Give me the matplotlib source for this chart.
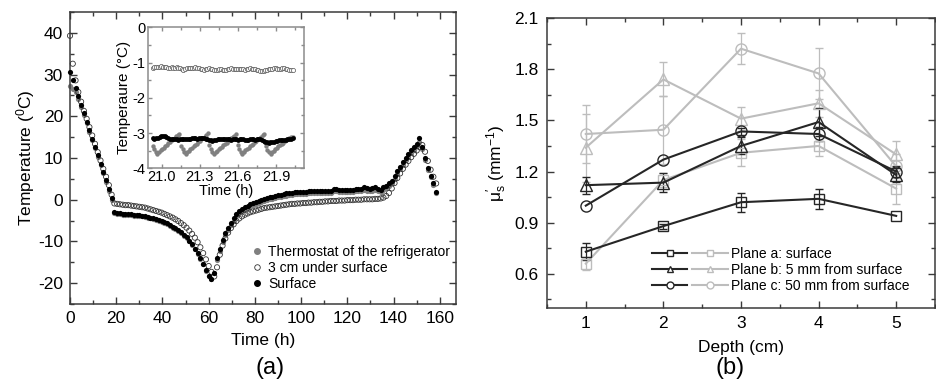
import numpy as np
import matplotlib
matplotlib.use('Agg')
import matplotlib.pyplot as plt
from matplotlib.lines import Line2D
from matplotlib.legend_handler import HandlerTuple
from matplotlib.ticker import MultipleLocator, FormatStrFormatter

plt.rcParams['font.family'] = ['Liberation Sans', 'DejaVu Sans']
plt.rcParams['axes.unicode_minus'] = False
plt.rcParams['mathtext.fontset'] = 'custom'
plt.rcParams['mathtext.rm'] = 'Liberation Sans'
plt.rcParams['mathtext.it'] = 'Liberation Sans:italic'

# --- panel (a): temperature log, one reading every 1.2 h ---
step_h = 1.2
surface = [30.5, 28.6, 26.7, 24.8, 22.6, 20.7, 18.6, 16.6, 14.6, 12.6,
           10.6, 8.6, 6.6, 4.7, 2.6, 0.3, -2.9, -3.2, -3.3, -3.4,
           -3.4, -3.5, -3.5, -3.6, -3.7, -3.7, -3.8, -4.0, -4.1, -4.3,
           -4.4, -4.6, -4.9, -5.1, -5.4, -5.7, -6.1, -6.5, -6.9, -7.3,
           -7.8, -8.4, -9.0, -9.8, -10.7, -11.7, -12.8, -14.0, -15.3, -16.8,
           -18.3, -19.1, -17.5, -14.0, -11.8, -9.7, -8.0, -6.8, -5.6, -4.5,
           -3.5, -2.8, -2.3, -1.8, -1.4, -1.1, -0.8, -0.5, -0.2, 0.0,
           0.2, 0.4, 0.6, 0.7, 0.9, 1.1, 1.2, 1.4, 1.5, 1.6,
           1.7, 1.8, 1.8, 1.9, 1.9, 1.9, 2.0, 2.0, 2.0, 2.1,
           2.0, 2.1, 2.1, 2.2, 2.1, 2.6, 2.5, 2.4, 2.3, 2.4,
           2.3, 2.3, 2.4, 2.6, 2.5, 2.6, 3.1, 2.7, 2.6, 2.8,
           3.0, 2.6, 2.4, 3.1, 3.4, 3.9, 4.6, 5.6, 6.8, 7.9,
           9.0, 10.0, 10.9, 11.8, 12.6, 13.4, 14.8, 12.6, 9.9, 7.5,
           5.7, 3.9, 1.9]
thermostat = [27.3, 26.5, 25.8, 24.2, 22.3, 20.3, 18.3, 16.3, 14.3, 12.3,
              10.3, 8.3, 6.3, 4.3, 2.2, 0.0, -3.3, -3.4, -3.5, -3.6,
              -3.6, -3.7, -3.7, -3.8, -3.9, -3.9, -4.0, -4.2, -4.3, -4.5,
              -4.6, -4.8, -5.1, -5.3, -5.6, -5.9, -6.3, -6.7, -7.1, -7.5,
              -8.0, -8.6, -9.2, -10.0, -10.9, -11.9, -13.0, -14.2, -15.5, -17.0,
              -18.4, -19.0, -17.6, -14.4, -12.2, -10.1, -8.5, -7.3, -6.1, -5.0,
              -4.0, -3.3, -2.8, -2.3, -1.9, -1.6, -1.3, -1.0, -0.7, -0.5,
              -0.3, -0.1, 0.1, 0.2, 0.4, 0.6, 0.7, 0.9, 1.0, 1.1,
              1.2, 1.3, 1.3, 1.4, 1.4, 1.4, 1.5, 1.5, 1.5, 1.6,
              1.5, 1.6, 1.6, 1.7, 1.6, 2.0, 2.0, 1.9, 1.8, 1.9,
              1.8, 1.8, 1.9, 2.0, 2.0, 2.1, 2.4, 2.2, 2.1, 2.2,
              2.3, 2.1, 1.9, 2.4, 2.8, 3.3, 4.0, 5.0, 6.2, 7.3,
              8.4, 9.4, 10.3, 11.2, 12.0, 12.8, 13.8, 12.2, 9.6, 7.2,
              5.4, 3.6, 1.6]
under_3cm = [39.3, 32.6, 28.6, 25.8, 23.5, 21.3, 19.4, 17.4, 15.4, 13.4,
             11.4, 9.4, 7.4, 5.5, 3.5, 1.2, -0.9, -1.0, -1.1, -1.2,
             -1.3, -1.3, -1.4, -1.5, -1.6, -1.7, -1.8, -1.9, -2.1, -2.3,
             -2.5, -2.7, -2.9, -3.1, -3.4, -3.7, -4.0, -4.3, -4.7, -5.1,
             -5.6, -6.1, -6.7, -7.4, -8.2, -9.1, -10.2, -11.4, -12.8, -14.3,
             -15.9, -17.3, -18.4, -16.2, -13.2, -11.0, -9.3, -7.9, -6.8, -5.9,
             -5.1, -4.5, -4.0, -3.6, -3.3, -3.0, -2.8, -2.6, -2.4, -2.2,
             -2.0, -1.9, -1.8, -1.7, -1.6, -1.5, -1.4, -1.3, -1.2, -1.1,
             -1.0, -1.0, -0.9, -0.9, -0.8, -0.8, -0.7, -0.7, -0.6, -0.6,
             -0.5, -0.5, -0.4, -0.4, -0.3, -0.3, -0.3, -0.2, -0.2, -0.2,
             -0.1, -0.1, -0.1, 0.0, 0.0, 0.0, 0.1, 0.1, 0.1, 0.1,
             0.2, 0.2, 0.3, 0.5, 0.9, 1.6, 2.7, 4.0, 5.2, 6.3,
             7.4, 8.4, 9.3, 10.2, 11.0, 11.8, 12.6, 13.1, 11.5, 9.3,
             7.2, 5.5, 3.9]

# inset: readings between 20.93 h and 22.03 h
inset_start, inset_end = 20.93, 22.03
inset_thermostat = [-3.38, -3.46, -3.53, -3.58,
                    -3.53, -3.49, -3.45, -3.41, -3.37, -3.33, -3.29, -3.25, -3.21, -3.17, -3.13, -3.09, -3.05, -3.02,
                    -3.36, -3.46, -3.54, -3.59,
                    -3.54, -3.50, -3.46, -3.42, -3.38, -3.34, -3.30, -3.26, -3.22, -3.18, -3.14, -3.10, -3.06, -3.01,
                    -3.34, -3.45, -3.55, -3.60,
                    -3.55, -3.50, -3.46, -3.42, -3.39, -3.35, -3.31, -3.27, -3.23, -3.19, -3.15, -3.11, -3.07, -3.03,
                    -3.35, -3.46, -3.54, -3.58,
                    -3.53, -3.49, -3.45, -3.41, -3.38, -3.34, -3.30, -3.26, -3.22, -3.18, -3.14, -3.10, -3.06, -3.02,
                    -3.37, -3.47, -3.55, -3.59,
                    -3.54, -3.50, -3.46, -3.42, -3.38, -3.34, -3.31, -3.27, -3.23, -3.20, -3.17, -3.14, -3.12, -3.10]
inset_3cm = [-1.15, -1.14, -1.13, -1.12, -1.12, -1.11, -1.13, -1.14, -1.14, -1.15,
             -1.15, -1.14, -1.15, -1.15, -1.14, -1.15, -1.16, -1.18, -1.20, -1.19,
             -1.16, -1.15, -1.15, -1.16, -1.15, -1.14, -1.15, -1.16, -1.17, -1.19,
             -1.20, -1.19, -1.17, -1.16, -1.17, -1.19, -1.21, -1.22, -1.20, -1.18,
             -1.19, -1.21, -1.22, -1.20, -1.18, -1.17, -1.16, -1.17, -1.18, -1.19,
             -1.18, -1.17, -1.18, -1.19, -1.20, -1.18, -1.17, -1.16, -1.17, -1.18,
             -1.19, -1.20, -1.22, -1.24, -1.25, -1.23, -1.21, -1.20, -1.19, -1.18,
             -1.17, -1.16, -1.16, -1.17, -1.18, -1.17, -1.16, -1.16, -1.17, -1.18,
             -1.20, -1.21, -1.22]
inset_surface = [-3.15, -3.16, -3.15, -3.14, -3.12, -3.09, -3.07, -3.08, -3.11, -3.14,
                 -3.17, -3.18, -3.17, -3.16, -3.18, -3.19, -3.18, -3.17, -3.16, -3.17,
                 -3.18, -3.17, -3.16, -3.15, -3.14, -3.15, -3.16, -3.15, -3.14, -3.13,
                 -3.14, -3.16, -3.18, -3.20, -3.21, -3.22, -3.21, -3.19, -3.17, -3.16,
                 -3.17, -3.18, -3.17, -3.16, -3.17, -3.18, -3.19, -3.18, -3.17, -3.18,
                 -3.19, -3.18, -3.17, -3.18, -3.19, -3.20, -3.19, -3.18, -3.17, -3.18,
                 -3.19, -3.18, -3.17, -3.18, -3.20, -3.22, -3.24, -3.26, -3.27, -3.26,
                 -3.25, -3.24, -3.23, -3.22, -3.21, -3.20, -3.19, -3.20, -3.19, -3.18,
                 -3.17, -3.16, -3.15]

# --- panel (b): reduced scattering coefficient vs depth ---
depth = [1, 2, 3, 4, 5]
a_black = [0.73, 0.88, 1.02, 1.04, 0.94]
a_black_err = [0.05, 0.015, 0.055, 0.06, np.nan]
a_grey = [0.66, 1.15, 1.31, 1.35, 1.10]
a_grey_err = [0.04, 0.04, 0.08, 0.06, 0.09]
b_black = [1.12, 1.135, 1.35, 1.49, 1.18]
b_black_err = [0.05, 0.055, 0.05, 0.08, 0.04]
b_grey = [1.34, 1.74, 1.51, 1.60, 1.30]
b_grey_err = [0.20, 0.10, 0.07, 0.08, 0.08]
c_black = [1.00, 1.27, 1.435, 1.42, 1.20]
c_black_err = [np.nan, np.nan, 0.02, 0.04, 0.03]
c_grey = [1.42, 1.445, 1.92, 1.775, 1.23]
c_grey_err = [0.17, 0.20, 0.09, 0.15, 0.07]
legend_labels = ['Plane a: surface', 'Plane b: 5 mm from surface', 'Plane c: 50 mm from surface']

DARK = '#262626'
LIGHT = '#bdbdbd'
THERMO = '#808080'


def style(ax, size, spine='#3a3a3a', pad=5):
    ax.tick_params(which='both', direction='in', top=True, right=True,
                   labelsize=size, color=spine, width=1, pad=pad)
    ax.tick_params(which='major', length=5)
    ax.tick_params(which='minor', length=3)
    for s in ax.spines.values():
        s.set_linewidth(1.1)
        s.set_color(spine)


fig = plt.figure(figsize=(9.36, 3.88), dpi=100)

# ---------------- (a) ----------------
ax1 = fig.add_axes([0.0748, 0.2165, 0.4124, 0.7526])
t = np.arange(len(surface)) * step_h
ax1.scatter(t, thermostat, s=14, c=THERMO, lw=0, zorder=2, clip_on=False)
ax1.scatter(t, under_3cm, s=14, facecolors='none', edgecolors='#333333', lw=0.6, zorder=3, clip_on=False)
ax1.scatter(t, surface, s=14, c='black', lw=0, zorder=4, clip_on=False)
ax1.set_xlim(0, 167)
ax1.set_ylim(-25, 45)
ax1.xaxis.set_major_locator(MultipleLocator(20))
ax1.xaxis.set_minor_locator(MultipleLocator(10))
ax1.yaxis.set_major_locator(MultipleLocator(10))
ax1.yaxis.set_minor_locator(MultipleLocator(5))
style(ax1, 12.5)
ax1.set_xlabel('Time (h)', fontsize=12.5, labelpad=5)
ax1.set_ylabel('Temperature ($^0$C)', fontsize=12.5, labelpad=1)

handles_a = [Line2D([], [], ls='none', marker='o', ms=4, mfc=THERMO, mec=THERMO),
             Line2D([], [], ls='none', marker='o', ms=4, mfc='none', mec='#333333', mew=0.6),
             Line2D([], [], ls='none', marker='o', ms=4, mfc='black', mec='black')]
ax1.legend(handles_a, ['Thermostat of the refrigerator', '3 cm under surface', 'Surface'],
           loc='upper left', bbox_to_anchor=(250 / 936, 1 - 245 / 388),
           bbox_transform=fig.transFigure, frameon=False, fontsize=10,
           handlelength=1.0, handletextpad=0.3, labelspacing=0.15,
           borderpad=0, borderaxespad=0)

# inset
axi = fig.add_axes([0.1578, 0.5662, 0.1670, 0.3634])
axi.scatter(np.linspace(inset_start, inset_end, len(inset_thermostat)), inset_thermostat,
            s=10, c=THERMO, lw=0, zorder=2)
axi.scatter(np.linspace(inset_start, inset_end, len(inset_3cm)), inset_3cm,
            s=9, facecolors='white', edgecolors='#555555', lw=0.5, zorder=3)
axi.scatter(np.linspace(inset_start, inset_end, len(inset_surface)), inset_surface,
            s=12, c='black', lw=0, zorder=4)
axi.set_xlim(20.89, 22.12)
axi.set_ylim(-4, 0)
axi.xaxis.set_major_locator(MultipleLocator(0.3))
axi.xaxis.set_minor_locator(MultipleLocator(0.15))
axi.xaxis.set_major_formatter(FormatStrFormatter('%.1f'))
axi.yaxis.set_major_locator(MultipleLocator(1))
axi.yaxis.set_minor_locator(MultipleLocator(0.5))
style(axi, 10.5, spine='#8c8c8c', pad=1.5)
axi.tick_params(which='major', length=3)
axi.tick_params(which='minor', length=2)
axi.set_xlabel('Time (h)', fontsize=10.5, labelpad=0,
               family=['Liberation Sans Narrow', 'Liberation Sans'])
axi.set_ylabel('Temperaure (°C)', fontsize=11, labelpad=1)

fig.text(270 / 936, 1 - 368 / 388, '(a)', ha='center', va='center', fontsize=17)

# ---------------- (b) ----------------
ax2 = fig.add_axes([0.5844, 0.2062, 0.4145, 0.7474])
series = [(a_grey, a_grey_err, LIGHT, 's', 7.5), (b_grey, b_grey_err, LIGHT, '^', 9),
          (c_grey, c_grey_err, LIGHT, 'o', 8),
          (a_black, a_black_err, DARK, 's', 7.5), (b_black, b_black_err, DARK, '^', 9),
          (c_black, c_black_err, DARK, 'o', 8)]
for vals, err, col, mk, size in series:
    ax2.errorbar(depth, vals, yerr=err, color=col, marker=mk, ms=size, mfc='none',
                 mec=col, mew=1.0, lw=1.5, capsize=3, elinewidth=0.9, capthick=0.9)
ax2.set_xlim(0.5, 5.5)
ax2.set_ylim(0.4, 2.1)
ax2.xaxis.set_major_locator(MultipleLocator(1))
ax2.xaxis.set_minor_locator(MultipleLocator(0.5))
ax2.yaxis.set_major_locator(MultipleLocator(0.3))
ax2.yaxis.set_minor_locator(MultipleLocator(0.15))
ax2.yaxis.set_major_formatter(FormatStrFormatter('%.1f'))
style(ax2, 12.5, pad=6)
ax2.set_xlabel('Depth (cm)', fontsize=12.5, labelpad=6)
ax2.set_ylabel('μ$_\\mathregular{s}^{\\prime}$ (mm$^{-1}$)', fontsize=12.5, labelpad=4)

handles_b = []
for mk in ['s', '^', 'o']:
    handles_b.append((Line2D([], [], color=DARK, marker=mk, ms=5, mfc='white', mec=DARK, lw=1.5),
                      Line2D([], [], color=LIGHT, marker=mk, ms=5, mfc='white', mec=LIGHT, lw=1.5)))
ax2.legend(handles_b, legend_labels, handler_map={tuple: HandlerTuple(ndivide=None, pad=0.35)},
           loc='upper left', bbox_to_anchor=(651.7 / 936, 1 - 247 / 388),
           bbox_transform=fig.transFigure, frameon=False, fontsize=10,
           handlelength=5.5, handletextpad=0.2, labelspacing=0.15,
           borderpad=0, borderaxespad=0)

fig.text(730 / 936, 1 - 368 / 388, '(b)', ha='center', va='center', fontsize=17)

fig.savefig('out.png', dpi=100)
